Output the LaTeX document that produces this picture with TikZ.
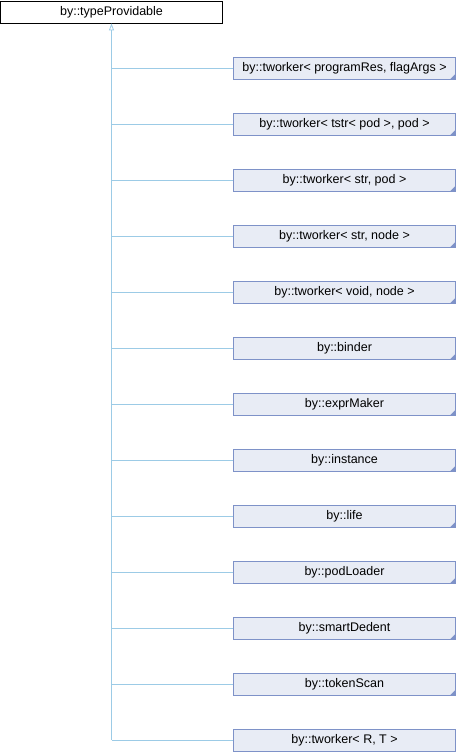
\documentclass[tikz,border=0pt]{standalone}
\usepackage{fontspec}
\setmainfont{Liberation Sans}
\usetikzlibrary{arrows.meta}
\definecolor{boxfill}{HTML}{E8ECF5}
\definecolor{boxline}{HTML}{7E92C8}
\definecolor{linkblue}{HTML}{9CCBE6}

\begin{document}
\begin{tikzpicture}[x=1pt,y=-1pt,
	base/.style={draw=black, fill=white, line width=0.8pt, minimum width=222pt, minimum height=22pt, inner sep=0pt, font=\fontsize{12.5}{14}\selectfont},
	derived/.style={draw=boxline, fill=boxfill, line width=0.8pt, minimum width=222pt, minimum height=22pt, inner sep=0pt, font=\fontsize{12.5}{14}\selectfont},
	link/.style={draw=linkblue, line width=0.8pt}]
	\useasboundingbox (0,0) rectangle (456,752);
	\node[base] (prov) at (111.5,12) {by::typeProvidable};
	% derived classes, one every 56px
	\foreach \lbl [count=\i] in {{by::tworker< programRes, flagArgs >},
			{by::tworker< tstr< pod >, pod >}, {by::tworker< str, pod >},
			{by::tworker< str, node >}, {by::tworker< void, node >},
			by::binder, by::exprMaker, by::instance, by::life, by::podLoader,
			by::smartDedent, by::tokenScan, {by::tworker< R, T >}}{
		\node[derived] (c\i) at (344.5,{68+(\i-1)*56}) {\lbl};
		\draw[link] (prov.south |- c\i.west) -- (c\i.west);
	}
	% documented marks
	\foreach \i in {1,...,12}{
		\fill[boxline] (c\i.south east) -- ++(-6,0) -- ++(6,-6) -- cycle;
	}
	\draw[link, {Triangle[open, fill=white, length=7pt, width=5pt]}-] (prov.south) -- (prov.south |- c13.west);
\end{tikzpicture}
\end{document}
